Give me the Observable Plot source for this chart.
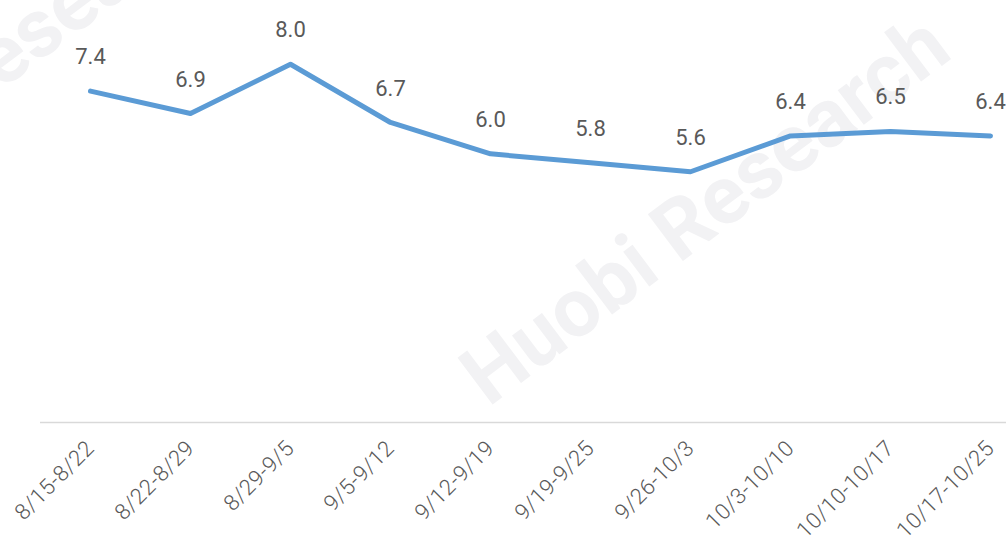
<!DOCTYPE html>
<html>
<head>
<meta charset="utf-8">
<script src="https://cdn.jsdelivr.net/npm/d3@7"></script>
<script src="https://cdn.jsdelivr.net/npm/@observablehq/plot@0.6"></script>
<style>
  html, body { margin: 0; padding: 0; background: #ffffff; }
  #chart { width: 1006px; height: 543px; overflow: hidden; }
  #chart g[aria-label="x-axis tick label"] text { letter-spacing: 0.5px; font-weight: 300; }
</style>
</head>
<body>
<div id="chart"></div>
<script>
const weeks = ["8/15-8/22", "8/22-8/29", "8/29-9/5", "9/5-9/12", "9/12-9/19", "9/19-9/25", "9/26-10/3", "10/3-10/10", "10/10-10/17", "10/17-10/25"];
const values = [7.4, 6.9, 8.0, 6.7, 6.0, 5.8, 5.6, 6.4, 6.5, 6.4];
const watermark = ["Huobi Research"];
const watermarkPartial = ["Research"];

const data = weeks.map((w, i) => ({week: w, value: values[i]}));

const chart = Plot.plot({
  width: 1006,
  height: 543,
  marginTop: 19,
  marginBottom: 121,
  marginLeft: 40,
  marginRight: 0,
  style: {fontFamily: "Roboto, 'Noto Sans', sans-serif", background: "#ffffff", overflow: "visible"},
  x: {type: "point", domain: weeks, range: [90, 990], padding: 0, label: null},
  y: {domain: [0, 9], axis: null},
  marks: [
    Plot.text(watermark, {frameAnchor: "top-left", dx: 448, dy: 388, rotate: -37, textAnchor: "start", lineAnchor: "bottom", fontSize: 82, fontWeight: "bold", fill: "#f2f2f4"}),
    Plot.text(watermarkPartial, {frameAnchor: "top-left", dx: -82, dy: 103, rotate: -37, textAnchor: "start", lineAnchor: "bottom", fontSize: 82, fontWeight: "bold", fill: "#f2f2f4"}),
    Plot.ruleY([0], {stroke: "#d9d9d9", strokeWidth: 1.5}),
    Plot.line(data, {x: "week", y: "value", stroke: "#5b9bd5", strokeWidth: 5, strokeLinejoin: "round", strokeLinecap: "round"}),
    Plot.text(data, {x: "week", y: "value", text: d => d.value.toFixed(1), dy: -34, fontSize: 22, fill: "#595959"}),
    Plot.axisX({tickRotate: -45, tickSize: 0, tickPadding: 22, fontSize: 22, color: "#595959", label: null})
  ]
});
document.getElementById("chart").appendChild(chart);
</script>
</body>
</html>
